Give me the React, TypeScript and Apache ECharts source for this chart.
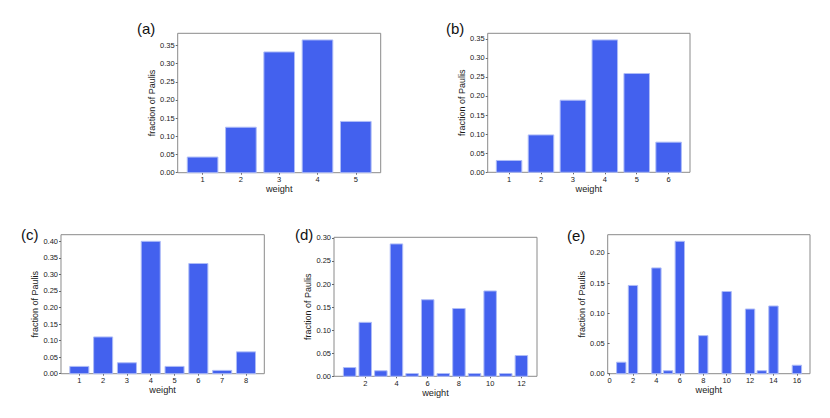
import React, { useEffect, useRef } from "react";
import * as echarts from "echarts";

// ---- data ----
const weightsA = [1, 2, 3, 4, 5];
const valuesA = [0.043, 0.125, 0.332, 0.365, 0.141];

const weightsB = [1, 2, 3, 4, 5, 6];
const valuesB = [0.031, 0.098, 0.189, 0.347, 0.259, 0.079];

const weightsC = [1, 2, 3, 4, 5, 6, 7, 8];
const valuesC = [0.022, 0.111, 0.033, 0.4, 0.022, 0.333, 0.01, 0.066];

const weightsD = [1, 2, 3, 4, 5, 6, 7, 8, 9, 10, 11, 12];
const valuesD = [0.019, 0.117, 0.012, 0.287, 0.006, 0.166, 0.006, 0.147, 0.006, 0.185, 0.006, 0.045];

const weightsE = [1, 2, 4, 5, 6, 8, 10, 12, 13, 14, 16];
const valuesE = [0.019, 0.146, 0.175, 0.005, 0.219, 0.063, 0.136, 0.107, 0.005, 0.112, 0.014];

const xTicksA = [1, 2, 3, 4, 5];
const xTicksB = [1, 2, 3, 4, 5, 6];
const xTicksC = [1, 2, 3, 4, 5, 6, 7, 8];
const xTicksD = [2, 4, 6, 8, 10, 12];
const xTicksE = [0, 2, 4, 6, 8, 10, 12, 14, 16];

const yTicksA = [0, 0.05, 0.1, 0.15, 0.2, 0.25, 0.3, 0.35];
const yTicksB = [0, 0.05, 0.1, 0.15, 0.2, 0.25, 0.3, 0.35];
const yTicksC = [0, 0.05, 0.1, 0.15, 0.2, 0.25, 0.3, 0.35, 0.4];
const yTicksD = [0, 0.05, 0.1, 0.15, 0.2, 0.25, 0.3];
const yTicksE = [0, 0.05, 0.1, 0.15, 0.2];

const panelLabels = ["(a)", "(b)", "(c)", "(d)", "(e)"];
const xName = "weight";
const yName = "fraction of Paulis";

const FONT = "'Liberation Sans', Arial, Helvetica, sans-serif";
const BAR_FILL = "#4361ee";
const BAR_EDGE = "#aebcf7";

const panels = [
  { w: weightsA, v: valuesA, xt: xTicksA, yt: yTicksA, xlim: [0.35, 5.65], grid: { left: 177.7, top: 33.3, width: 203, height: 139.4 }, lab: [137, 21] },
  { w: weightsB, v: valuesB, xt: xTicksB, yt: yTicksB, xlim: [0.33, 6.67], grid: { left: 487.7, top: 33.3, width: 202.3, height: 139 }, lab: [446, 21] },
  { w: weightsC, v: valuesC, xt: xTicksC, yt: yTicksC, xlim: [0.23, 8.77], grid: { left: 61, top: 234.7, width: 203.3, height: 139 }, lab: [21, 227] },
  { w: weightsD, v: valuesD, xt: xTicksD, yt: yTicksD, xlim: [0, 13], grid: { left: 334, top: 237.3, width: 203, height: 139 }, lab: [295, 227] },
  { w: weightsE, v: valuesE, xt: xTicksE, yt: yTicksE, xlim: [-0.16, 17.12], grid: { left: 607.7, top: 234.7, width: 202.3, height: 139 }, lab: [567, 228] },
];

export default function App() {
  const ref = useRef<HTMLDivElement>(null);

  useEffect(() => {
    if (!ref.current) return;
    const chart = echarts.init(ref.current, null, { renderer: "svg" });

    const grid = panels.map((p) => ({
      ...p.grid,
      show: true,
      borderColor: "#8a8a8a",
      borderWidth: 1,
      backgroundColor: "transparent",
      containLabel: false,
    }));

    const xAxis = panels.map((p, i) => ({
      type: "value",
      gridIndex: i,
      min: p.xlim[0],
      max: p.xlim[1],
      name: xName,
      nameLocation: "middle",
      nameGap: 7,
      nameTextStyle: { fontFamily: FONT, fontSize: 9.2, color: "#1a1a1a", verticalAlign: "top" },
      axisLine: { show: false },
      splitLine: { show: false },
      axisTick: { show: true, length: 2, customValues: p.xt, lineStyle: { color: "#666", width: 1 } },
      axisLabel: {
        show: true,
        customValues: p.xt,
        margin: 3,
        fontFamily: FONT,
        fontSize: 7.5,
        color: "#1a1a1a",
        formatter: (val: number) => String(Math.round(val)),
      },
    }));

    const yAxis = panels.map((p, i) => ({
      type: "value",
      gridIndex: i,
      min: 0,
      max: Math.max(...p.v) * 1.05,
      name: yName,
      nameLocation: "middle",
      nameRotate: 90,
      nameGap: 20,
      nameTextStyle: { fontFamily: FONT, fontSize: 9, color: "#1a1a1a" },
      axisLine: { show: false },
      splitLine: { show: false },
      axisTick: { show: true, length: 2, customValues: p.yt, lineStyle: { color: "#666", width: 1 } },
      axisLabel: {
        show: true,
        customValues: p.yt,
        margin: 3,
        fontFamily: FONT,
        fontSize: 7.5,
        color: "#1a1a1a",
        formatter: (val: number) => val.toFixed(2),
      },
    }));

    const series = panels.map((p, i) => ({
      type: "custom",
      xAxisIndex: i,
      yAxisIndex: i,
      encode: { x: 0, y: 1 },
      data: p.w.map((w, k) => [w, p.v[k]]),
      renderItem: (params: any, api: any) => {
        const x = api.value(0);
        const v = api.value(1);
        const p0 = api.coord([x - 0.4, v]);
        const p1 = api.coord([x + 0.4, 0]);
        return {
          type: "rect",
          shape: { x: p0[0], y: p0[1], width: p1[0] - p0[0], height: p1[1] - p0[1] },
          style: { fill: BAR_FILL, stroke: BAR_EDGE, lineWidth: 1 },
        };
      },
    }));

    const graphic = panels.map((p, i) => ({
      type: "text",
      left: p.lab[0],
      top: p.lab[1],
      style: { text: panelLabels[i], font: `15px ${FONT}`, fill: "#111" },
    }));

    chart.setOption({
      animation: false,
      backgroundColor: "#ffffff",
      grid,
      xAxis,
      yAxis,
      series,
      graphic,
    } as any);

    return () => chart.dispose();
  }, []);

  return (
    <div
      ref={ref}
      style={{ position: "fixed", left: 0, top: 0, width: 830, height: 418 }}
    />
  );
}
